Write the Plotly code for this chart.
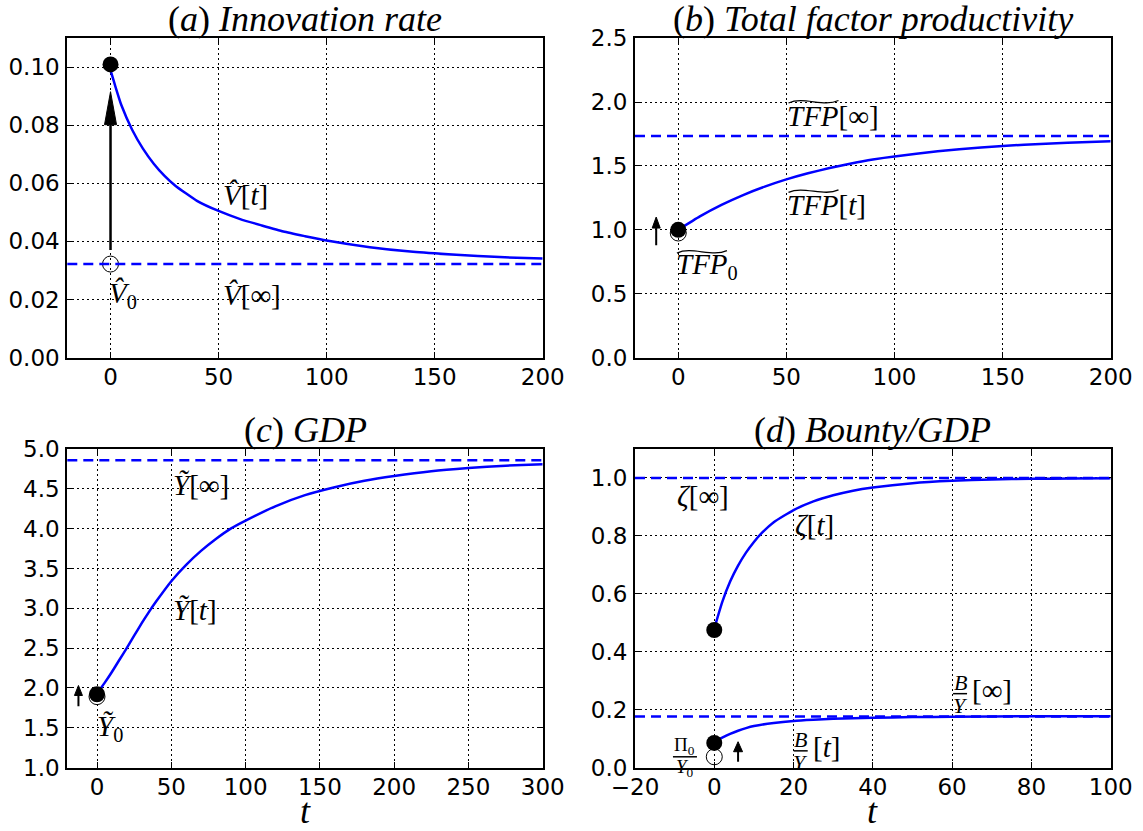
import plotly.graph_objects as go

# ---------------- data ----------------
# (a) Innovation rate
t_a = [0, 2, 5, 10, 15, 20, 25, 30, 40, 50, 60, 70, 80, 90, 100, 120, 140, 160, 180, 200]
v_hat_t = [0.0990, 0.0940, 0.0870, 0.0785, 0.0720, 0.0668, 0.0626, 0.0592, 0.0540, 0.0505,
           0.0477, 0.0455, 0.0434, 0.0418, 0.0403, 0.0380, 0.0364, 0.0354, 0.0346, 0.0341]
v_hat_inf = 0.0322
v_hat_0 = 0.0322
v_hat_jump = 0.101

# (b) Total factor productivity
t_b = [0, 10, 20, 30, 40, 50, 60, 70, 80, 90, 100, 120, 140, 160, 180, 200]
tfp_t = [1.00, 1.105, 1.195, 1.272, 1.338, 1.395, 1.443, 1.484, 1.520, 1.551, 1.575,
         1.615, 1.645, 1.667, 1.682, 1.693]
tfp_inf = 1.735
tfp_0 = 0.975
tfp_jump = 1.0

# (c) GDP
t_c = [0, 5, 10, 15, 20, 25, 30, 35, 40, 50, 60, 70, 80, 90, 100, 120, 140, 160, 180,
       200, 225, 250, 275, 300]
gdp_t = [1.93, 2.06, 2.20, 2.35, 2.50, 2.655, 2.81, 2.955, 3.09, 3.34, 3.545, 3.72, 3.87,
         4.00, 4.10, 4.28, 4.42, 4.52, 4.60, 4.66, 4.72, 4.76, 4.79, 4.81]
gdp_inf = 4.86
gdp_0 = 1.89
gdp_jump = 1.92

# (d) Bounty / GDP
t_d = [0, 2, 4, 6, 8, 10, 12, 15, 20, 25, 30, 35, 40, 50, 60, 70, 80, 90, 100]
zeta_t = [0.48, 0.571, 0.642, 0.697, 0.742, 0.779, 0.810, 0.847, 0.889, 0.919, 0.940, 0.956,
          0.967, 0.982, 0.990, 0.995, 0.997, 0.998, 0.999]
zeta_inf = 1.0
zeta_jump = 0.475
t_d2 = [0, 2, 4, 6, 8, 10, 15, 20, 25, 30, 40, 50, 60, 80, 100]
by_t = [0.088, 0.103, 0.116, 0.127, 0.136, 0.143, 0.154, 0.161, 0.165, 0.168, 0.172,
        0.174, 0.175, 0.177, 0.177]
by_inf = 0.176
by_0 = 0.037
by_jump = 0.085

t_jump = 0

# tick values
x_ticks_a = [0, 50, 100, 150, 200]
y_ticks_a = [0.00, 0.02, 0.04, 0.06, 0.08, 0.10]
x_ticks_b = [0, 50, 100, 150, 200]
y_ticks_b = [0.0, 0.5, 1.0, 1.5, 2.0, 2.5]
x_ticks_c = [0, 50, 100, 150, 200, 250, 300]
y_ticks_c = [1.0, 1.5, 2.0, 2.5, 3.0, 3.5, 4.0, 4.5, 5.0]
x_ticks_d = [-20, 0, 20, 40, 60, 80, 100]
y_ticks_d = [0.0, 0.2, 0.4, 0.6, 0.8, 1.0]

titles = [("a", "Innovation rate"), ("b", "Total factor productivity"),
          ("c", "GDP"), ("d", "Bounty/GDP")]
x_label = "t"

# ---------------- layout constants ----------------
W, H = 1143, 831
BLUE = "#0000ff"
SERIF = "Liberation Serif"
LBL = 29
LBL_SHIFT = 4

col_px = [(67.3, 542.7), (635.0, 1110.7)]
row_px = [(38.3, 357.5), (449.0, 767.5)]

panels = [
    dict(xa="x", ya="y", col=0, row=0, xr=[-20, 200], yr=[0, 0.11], xt=x_ticks_a, yt=y_ticks_a, yf=".2f"),
    dict(xa="x2", ya="y2", col=1, row=0, xr=[-20, 200], yr=[0, 2.5], xt=x_ticks_b, yt=y_ticks_b, yf=".1f"),
    dict(xa="x3", ya="y3", col=0, row=1, xr=[-20, 300], yr=[1, 5], xt=x_ticks_c, yt=y_ticks_c, yf=".1f"),
    dict(xa="x4", ya="y4", col=1, row=1, xr=[-20, 100], yr=[0, 1.1], xt=x_ticks_d, yt=y_ticks_d, yf=".1f"),
]

fig = go.Figure()
shapes = []
anns = []


def ppu(p):
    r0, r1 = row_px[p["row"]]
    return (r1 - r0) / (p["yr"][1] - p["yr"][0])


def add_series(p, t, y, jump, pre=None):
    if pre is not None:
        fig.add_trace(go.Scatter(x=[t_jump], y=[pre], mode="markers", xaxis=p["xa"], yaxis=p["ya"],
                                 marker=dict(symbol="circle-open", size=16, color="black",
                                             line=dict(width=1, color="black")),
                                 hoverinfo="skip"))
    fig.add_trace(go.Scatter(x=t, y=y, mode="lines", xaxis=p["xa"], yaxis=p["ya"],
                             line=dict(color=BLUE, width=2.5, shape="spline", smoothing=0.5)))
    fig.add_trace(go.Scatter(x=[t_jump], y=[jump], mode="markers", xaxis=p["xa"], yaxis=p["ya"],
                             marker=dict(size=16, color="black"), hoverinfo="skip"))


def asymptote(p, val):
    shapes.append(dict(type="line", xref=p["xa"] + " domain", yref=p["ya"], x0=0, x1=1,
                       y0=val, y1=val, layer="above",
                       line=dict(color=BLUE, width=2.5, dash="10px,6px")))


def arrow(p, x, y_tail, y_tip, head_len, head_w, lw):
    shaft = (y_tip - y_tail) * ppu(p)
    shapes.append(dict(type="path", xref=p["xa"], yref=p["ya"], xsizemode="pixel", ysizemode="pixel",
                       xanchor=x, yanchor=y_tip,
                       path=f"M 0,{-head_len + 2} L 0,{-shaft:.1f}",
                       line=dict(color="black", width=lw)))
    shapes.append(dict(type="path", xref=p["xa"], yref=p["ya"], xsizemode="pixel", ysizemode="pixel",
                       xanchor=x, yanchor=y_tip,
                       path=f"M 0,0 L {-head_w / 2},{-head_len} L {head_w / 2},{-head_len} Z",
                       fillcolor="black", line=dict(color="black", width=1)))


def label(p, x, y, text, size=LBL, xanchor="left"):
    anns.append(dict(xref=p["xa"], yref=p["ya"], x=x, y=y, text=text, showarrow=False,
                     xanchor=xanchor, yanchor="middle", yshift=LBL_SHIFT,
                     font=dict(family=SERIF, size=size, color="black")))


def wide_tilde(p, x, y, dx0, w, dy, h=2.5):
    path = (f"M {dx0},{dy} C {dx0 + 0.3 * w:.1f},{dy + 2.8 * h:.1f} "
            f"{dx0 + 0.7 * w:.1f},{dy - 1.8 * h:.1f} {dx0 + w},{dy + h}")
    shapes.append(dict(type="path", xref=p["xa"], yref=p["ya"], xsizemode="pixel", ysizemode="pixel",
                       xanchor=x, yanchor=y, path=path, line=dict(color="black", width=1.3)))


def frac(p, x, y, num, den, size, half_w):
    anns.append(dict(xref=p["xa"], yref=p["ya"], x=x, y=y, text=num, showarrow=False,
                     xanchor="center", yanchor="bottom", yshift=-3,
                     font=dict(family=SERIF, size=size, color="black")))
    anns.append(dict(xref=p["xa"], yref=p["ya"], x=x, y=y, text=den, showarrow=False,
                     xanchor="center", yanchor="top", yshift=3,
                     font=dict(family=SERIF, size=size, color="black")))
    shapes.append(dict(type="path", xref=p["xa"], yref=p["ya"], xsizemode="pixel", ysizemode="pixel",
                       xanchor=x, yanchor=y, path=f"M {-half_w},0 L {half_w},0",
                       line=dict(color="black", width=1.5)))


pa, pb, pc, pd = panels

# (a)
asymptote(pa, v_hat_inf)
add_series(pa, t_a, v_hat_t, v_hat_jump, v_hat_0)
arrow(pa, t_jump, 0.037, 0.0916, 33, 12, 2.5)
label(pa, 51, 0.0545, "<i>V\u0302</i>[<i>t</i>]")
label(pa, 51, 0.0200, "<i>V\u0302</i>[\u221e]")
label(pa, -1.5, 0.0200, "<i>V\u0302</i><sub>0</sub>")

# (b)
asymptote(pb, tfp_inf)
add_series(pb, t_b, tfp_t, tfp_jump, tfp_0)
arrow(pb, -10.2, 0.88, 1.10, 11, 8, 2)
label(pb, 49.6, 1.86, "<i>TFP</i>[\u221e]")
wide_tilde(pb, 49.6, 1.86, 3, 50, 17)
label(pb, 49.6, 1.16, "<i>TFP</i>[<i>t</i>]")
wide_tilde(pb, 49.6, 1.16, 3, 50, 17)
label(pb, -2, 0.685, "<i>TFP</i><sub>0</sub>")
wide_tilde(pb, -2, 0.685, 3, 50, 17)

# (c)
asymptote(pc, gdp_inf)
add_series(pc, t_c, gdp_t, gdp_jump, gdp_0)
arrow(pc, -12.5, 1.77, 2.03, 10, 8, 2)
label(pc, 50, 4.50, "<i>\u1ef8</i>[\u221e]")
label(pc, 50, 2.93, "<i>\u1ef8</i>[<i>t</i>]")
label(pc, -1.5, 1.45, "<i>\u1ef8</i><sub>0</sub>")

# (d)
asymptote(pd, zeta_inf)
asymptote(pd, by_inf)
add_series(pd, t_d, zeta_t, zeta_jump)
add_series(pd, t_d2, by_t, by_jump, by_0)
arrow(pd, 6.0, 0.02, 0.089, 10, 9, 2)
label(pd, -9.9, 0.923, "<i>\u03b6</i>[\u221e]")
label(pd, 19.9, 0.825, "<i>\u03b6</i>[<i>t</i>]")
frac(pd, 62, 0.255, "<i>B</i>", "<i>Y</i>", 22, 7)
label(pd, 64.5, 0.255, "[\u221e]")
frac(pd, 21.8, 0.0575, "<i>B</i>", "<i>Y</i>", 22, 7)
label(pd, 24.3, 0.0575, "[<i>t</i>]")
frac(pd, -7.4, 0.037, "\u03a0<sub>0</sub>", "<i>Y</i><sub>0</sub>", 19, 12)

# titles and axis labels
for p, (letter, name) in zip(panels, titles):
    c0, c1 = col_px[p["col"]]
    r0, _ = row_px[p["row"]]
    anns.append(dict(xref="paper", yref="paper", x=(c0 + c1) / 2 / W, y=1 - (r0 - 19) / H,
                     text=f"(<i>{letter}</i>) <i>{name}</i>", showarrow=False,
                     xanchor="center", yanchor="middle",
                     font=dict(family=SERIF, size=36, color="black")))
for col in (0, 1):
    c0, c1 = col_px[col]
    anns.append(dict(xref="paper", yref="paper", x=(c0 + c1) / 2 / W, y=1 - 811 / H,
                     text=f"<i>{x_label}</i>", showarrow=False, xanchor="center", yanchor="middle",
                     font=dict(family=SERIF, size=36, color="black")))

axis_common = dict(showline=True, linecolor="black", linewidth=2, mirror="ticks",
                   ticks="inside", ticklen=6, tickwidth=1, tickcolor="black",
                   showgrid=True, gridcolor="black", gridwidth=1, griddash="1.5px,3.5px",
                   zeroline=False, automargin=False,
                   tickfont=dict(family="DejaVu Sans", size=23, color="black"))

layout = dict(width=W, height=H, margin=dict(l=0, r=0, t=0, b=0, autoexpand=False),
              paper_bgcolor="white", plot_bgcolor="white", showlegend=False,
              shapes=shapes, annotations=anns)
for i, p in enumerate(panels):
    c0, c1 = col_px[p["col"]]
    r0, r1 = row_px[p["row"]]
    sfx = "" if i == 0 else str(i + 1)
    layout["xaxis" + sfx] = dict(axis_common, domain=[c0 / W, c1 / W], range=p["xr"],
                                 tickvals=p["xt"], anchor=p["ya"], ticklabelstandoff=-2)
    layout["yaxis" + sfx] = dict(axis_common, domain=[1 - r1 / H, 1 - r0 / H], range=p["yr"],
                                 tickvals=p["yt"], tickformat=p["yf"], anchor=p["xa"],
                                 ticklabelstandoff=1)

fig.update_layout(**layout)
fig.write_html("out.html", config={"displayModeBar": False},
               post_script="document.body.style.margin='0';")
